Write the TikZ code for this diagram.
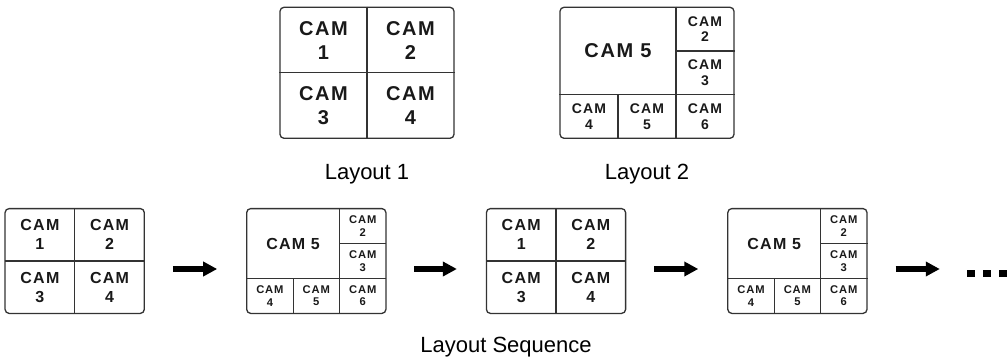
\documentclass[tikz,border=0pt]{standalone}
\usepackage{fontspec}
\setmainfont{Liberation Sans}
\newfontfamily\camfont[LetterSpace=8]{Liberation Sans}
\usetikzlibrary{positioning, arrows.meta, calc}

% ctyri kamery (2x2), stred v (0,0)
\newcommand{\quadscreen}[1]{%
  \node[screen] (#1) at (0,0) {};
  \draw[grid] (#1.north) -- (#1.south);
  \draw[grid] (#1.west)  -- (#1.east);
  \node[cam] at (-43.5,-32.75) {CAM\\1};
  \node[cam] at ( 43.5,-32.75) {CAM\\2};
  \node[cam] at (-43.5, 32.75) {CAM\\3};
  \node[cam] at ( 43.5, 32.75) {CAM\\4};
}

% sest poli (3x3, velke pole vlevo nahore), stred v (0,0)
\newcommand{\fivescreen}[1]{%
  \node[screen] (#1) at (0,0) {};
  \draw[grid] ($(#1.north)+(29,0)$)      -- ($(#1.south)+(29,0)$);
  \draw[grid] ($(#1.west)+(0,21.83)$)    -- ($(#1.east)+(0,21.83)$);
  \draw[grid] ($(#1.center)+(29,-21.83)$) -- ($(#1.east)+(0,-21.83)$);
  \draw[grid] ($(#1.center)+(-29,21.83)$) -- ($(#1.south)+(-29,0)$);
  \node[cam]   at (-29,-21.83) {CAM 5};
  \node[small] at ( 58,-43.67) {CAM\\2};
  \node[small] at ( 58,  0)    {CAM\\3};
  \node[small] at (-58, 43.67) {CAM\\4};
  \node[small] at (  0, 43.67) {CAM\\5};
  \node[small] at ( 58, 43.67) {CAM\\6};
}

\begin{document}
\begin{tikzpicture}[
    x=1pt, y=-1pt,
    screen/.style   = {draw=black!80, line width=1.3pt, rounded corners=4pt,
                       minimum width=174pt, minimum height=131pt, inner sep=0pt},
    grid/.style     = {draw=black!80, line width=1.1pt},
    cam/.style      = {align=center, inner sep=0pt, text=black!90,
                       font=\camfont\bfseries\fontsize{20}{24}\selectfont},
    small/.style    = {cam, font=\camfont\bfseries\fontsize{14}{15.5}\selectfont},
    caption/.style  = {anchor=base, font=\fontsize{22}{26}\selectfont},
    seqarrow/.style = {-{Triangle[length=14pt, width=14pt]}, line width=5.5pt,
                       shorten <=28pt, shorten >=29pt}
]
\useasboundingbox (0,0) rectangle (1007,359);

% Horni rozvrzeni
\begin{scope}[shift={(367,72.8)}]
  \quadscreen{l1}
\end{scope}
\begin{scope}[shift={(647,72.8)}]
  \fivescreen{l2}
\end{scope}
\node[caption] (t1) at ($(l1.south)+(0,41)$) {Layout 1};
\node[caption] (t2) at ($(l2.south)+(0,41)$) {Layout 2};

% Sekvence rozvrzeni
\begin{scope}[shift={(74.7,261)}, scale=0.8, transform shape]
  \quadscreen{s1}
\end{scope}
\begin{scope}[shift={(316.3,261)}, scale=0.8, transform shape]
  \fivescreen{s2}
\end{scope}
\begin{scope}[shift={(556,261)}, scale=0.8, transform shape]
  \quadscreen{s3}
\end{scope}
\begin{scope}[shift={(797.4,261)}, scale=0.8, transform shape]
  \fivescreen{s4}
\end{scope}

% Tri tecky
\node[inner sep=0pt] (more) at (986.75,273.5)
    {\rule{7.5pt}{7.5pt}\hspace{8.5pt}\rule{7.5pt}{7.5pt}\hspace{8.5pt}\rule{7.5pt}{7.5pt}};

% Sipky
\draw[seqarrow] ([yshift=-8pt]s1.east) -- ([yshift=-8pt]s2.west);
\draw[seqarrow] ([yshift=-8pt]s2.east) -- ([yshift=-8pt]s3.west);
\draw[seqarrow] ([yshift=-8pt]s3.east) -- ([yshift=-8pt]s4.west);
\coordinate (tail) at ([yshift=-8pt]s4.east);
\draw[seqarrow, shorten >=27pt] (tail) -- (tail -| more.west);

\node[caption] (seq) at (506,352.7) {Layout Sequence};

\end{tikzpicture}
\end{document}
